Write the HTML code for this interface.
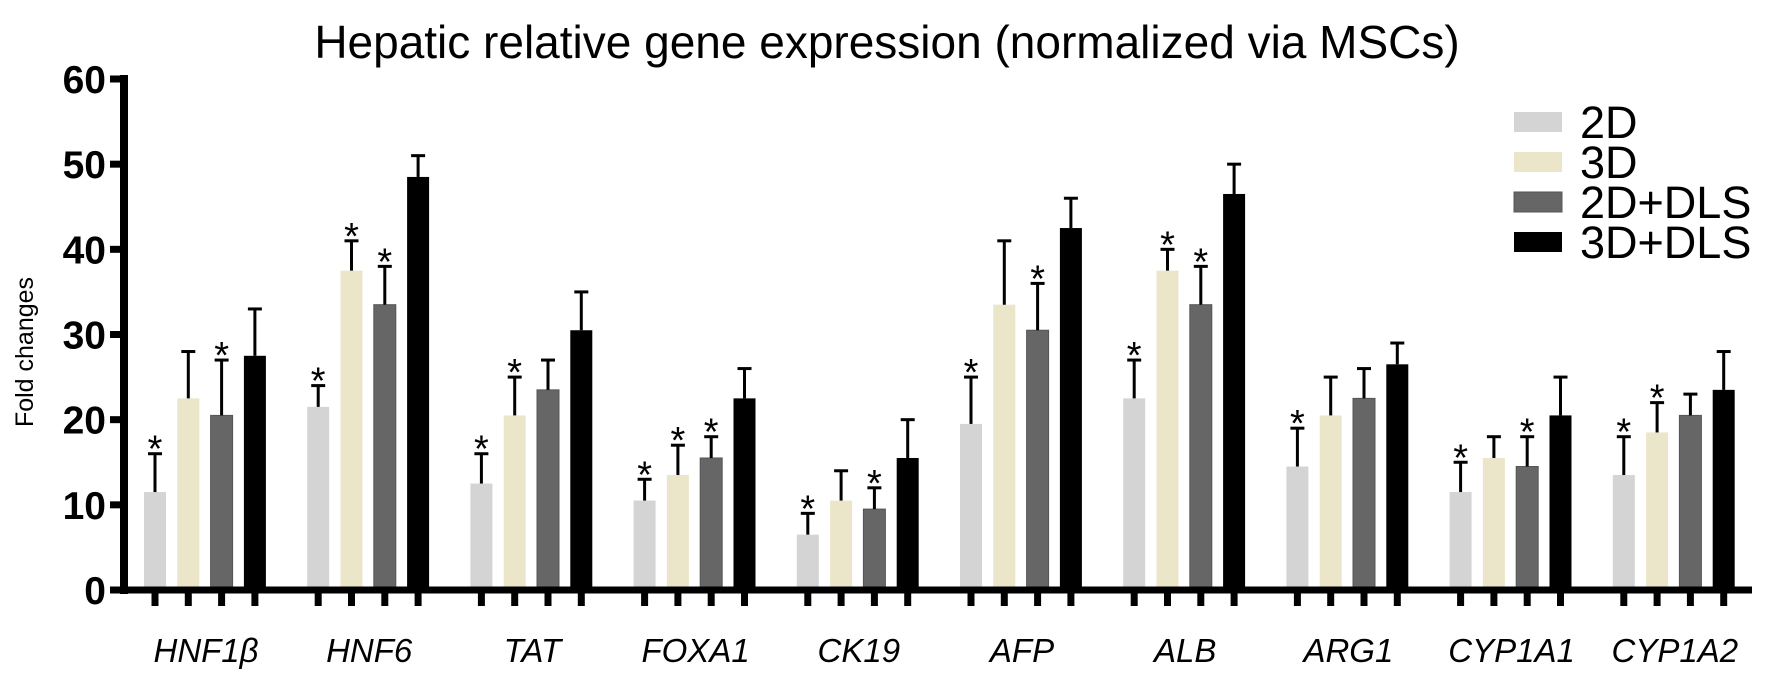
<!DOCTYPE html>
<html><head><meta charset="utf-8"><style>
html,body{margin:0;padding:0;background:#fff;width:1772px;height:685px;overflow:hidden}
svg text{font-family:"Liberation Sans",Arial,sans-serif}
</style></head><body>
<svg id="chart" width="1772" height="685" xmlns="http://www.w3.org/2000/svg">
<text x="887" y="58" font-size="46" text-anchor="middle">Hepatic relative gene expression (normalized via MSCs)</text>
<text transform="translate(33,352) rotate(-90)" font-size="25" text-anchor="middle">Fold changes</text>
<g id="plot"></g>
<g id="legend"></g>
</svg>
<script>
const categories=["HNF1β","HNF6","TAT","FOXA1","CK19","AFP","ALB","ARG1","CYP1A1","CYP1A2"];
const seriesNames=["2D","3D","2D+DLS","3D+DLS"];
const v2D=[11.5,21.5,12.5,10.5,6.5,19.5,22.5,14.5,11.5,13.5];
const v3D=[22.5,37.5,20.5,13.5,10.5,33.5,37.5,20.5,15.5,18.5];
const v2DDLS=[20.5,33.5,23.5,15.5,9.5,30.5,33.5,22.5,14.5,20.5];
const v3DDLS=[27.5,48.5,30.5,22.5,15.5,42.5,46.5,26.5,20.5,23.5];
const e2D=[16,24,16,13,9,25,27,19,15,18];
const e3D=[28,41,25,17,14,41,40,25,18,22];
const e2DDLS=[27,38,27,18,12,36,38,26,18,23];
const e3DDLS=[33,51,35,26,20,46,50,29,25,28];
const sig2D=[1,1,1,1,1,1,1,1,1,1];
const sig3D=[0,1,1,1,0,0,1,0,0,1];
const sig2DDLS=[1,1,0,1,1,1,1,0,1,0];
const sig3DDLS=[0,0,0,0,0,0,0,0,0,0];
const yTicks=[0,10,20,30,40,50,60];

const vals=[v2D,v3D,v2DDLS,v3DDLS], errs=[e2D,e3D,e2DDLS,e3DDLS], sigs=[sig2D,sig3D,sig2DDLS,sig3DDLS];
const colors=["#d4d4d4","#ebe5c9","#666666","#000000"];
const NS="http://www.w3.org/2000/svg";
const y0=590,yTop=79,axX=124;
const y=v=>y0-(v/60)*(y0-yTop);
const gx=i=>144+i*163.2, bx=(i,s)=>gx(i)+s*33.3, bw=22;
const plot=document.getElementById('plot');
function mk(tag,attrs,parent){const e=document.createElementNS(NS,tag);for(const k in attrs)e.setAttribute(k,attrs[k]);(parent||plot).appendChild(e);return e;}

categories.forEach((c,i)=>{
  for(let s=0;s<4;s++){
    const v=vals[s][i],e=errs[s][i],x=bx(i,s),cx=x+bw/2;
    const r=mk('rect',{x:x,y:y(v),width:bw,height:y0-3-y(v),fill:colors[s],stroke:s==2?'#555':'none','stroke-width':1});
    
    
    const l=mk('line',{x1:cx,x2:cx,y1:y(v),y2:y(e),stroke:'#000','stroke-width':3});
    
    
    const cap=mk('line',{x1:cx-7,x2:cx+7,y1:y(e),y2:y(e),stroke:'#000','stroke-width':3});
    
    
    if(sigs[s][i]){
      const t=mk('text',{x:cx,y:y(e)+8,'font-size':38,'text-anchor':'middle',fill:'#000'});
      t.textContent='*';
      
      
    }
    const tk=mk('line',{x1:cx,x2:cx,y1:y0,y2:y0+16,stroke:'#000','stroke-width':7});
    
    
  }
  const lab=mk('text',{x:gx(i)+62,y:662,'font-size':33,'font-style':'italic','text-anchor':'middle'});
  lab.textContent=c;
  
  
});
const ya=mk('line',{x1:axX,x2:axX,y1:yTop-4,y2:y0+4,stroke:'#000','stroke-width':8});


const xa=mk('line',{x1:axX-4,x2:1752,y1:y0,y2:y0,stroke:'#000','stroke-width':7});


yTicks.forEach(t=>{
  const tk=mk('line',{x1:110,x2:axX,y1:y(t),y2:y(t),stroke:'#000','stroke-width':7});
  
  
  const tl=mk('text',{x:106,y:y(t)+14,'font-size':39,'font-weight':'bold','text-anchor':'end'});
  tl.textContent=t;
  
  
});
const lg=document.getElementById('legend');
seriesNames.forEach((n,s)=>{
  const yy=122+s*40;
  const r=mk('rect',{x:1514,y:yy-10,width:48,height:20,fill:colors[s],stroke:s==2?'#555':'none'},lg);
  
  
  const t=mk('text',{x:1580,y:yy+16,'font-size':45},lg);
  t.textContent=n;
  
  
});
</script>
</body></html>
